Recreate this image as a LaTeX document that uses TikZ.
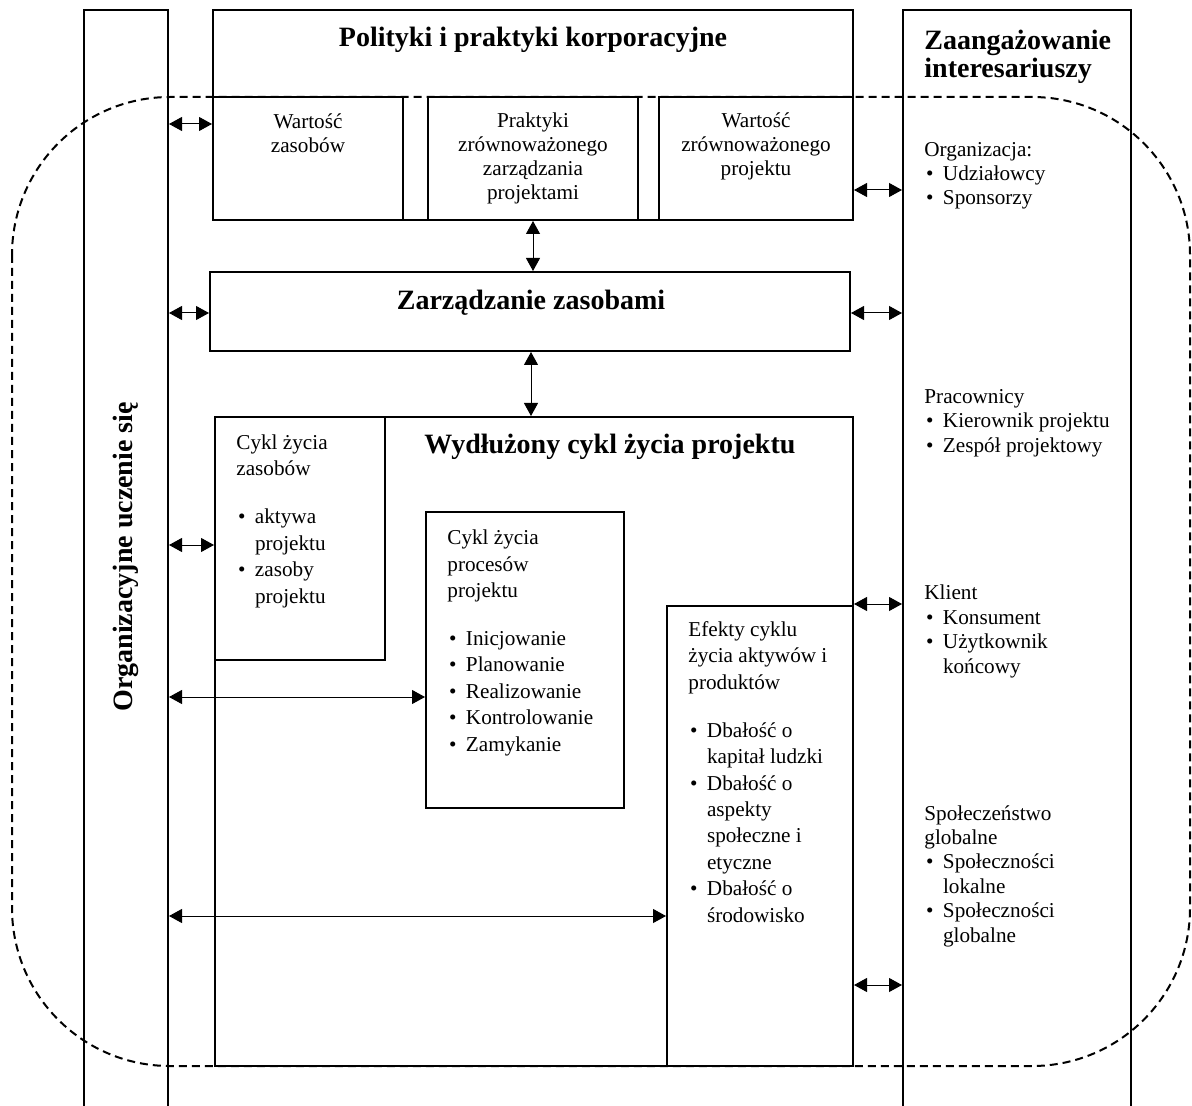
\documentclass[tikz,border=0pt]{standalone}
\usepackage{fontspec}
\setmainfont{Liberation Serif}
\usetikzlibrary{arrows.meta}
\newcommand{\mybul}{\makebox[9.3pt][l]{\hspace*{0.8pt}\textbullet}}
\newcommand{\myind}{\hspace*{9.3pt}}
\begin{document}
\begin{tikzpicture}[x=0.5pt,y=-0.5pt,
  box/.style={draw, line width=1pt, inner sep=0pt},
  arr/.style={{Triangle[length=6.5pt,width=7pt]}-{Triangle[length=6.5pt,width=7pt]}, line width=0.5pt},
  body/.style={font=\fontsize{10.6}{13.2}\selectfont, inner sep=0pt, align=left},
  bodytop/.style={font=\fontsize{10.6}{12}\selectfont, inner sep=0pt, align=center},
  side/.style={font=\fontsize{10.6}{12.2}\selectfont, inner sep=0pt, align=left},
  title/.style={font=\fontsize{14}{14}\selectfont\bfseries, inner sep=0pt},
  dashframe/.style={dash pattern=on 4pt off 2.5pt, line width=1pt},
]
\useasboundingbox (0,0) rectangle (1192,1106);
\clip (0,0) rectangle (1192,1106);

% dashed rounded frame
\draw[dashframe, rounded corners=79pt] (12,97) rectangle (1190,1066);

% columns (open at the bottom, clipped)
\node[box, minimum width=42pt, minimum height=560pt] (colL) at (126,570) {};
\node[box, minimum width=114pt, minimum height=560pt] (colR) at (1017,570) {};

% top block
\node[box, minimum width=320pt, minimum height=105pt] (pol) at (533,115) {};
\node[box, minimum width=95pt, minimum height=61.5pt] (wz) at (308,158.5) {};
\node[box, minimum width=105pt, minimum height=61.5pt] (pz) at (533,158.5) {};
\node[box, minimum width=97pt, minimum height=61.5pt] (wp) at (756,158.5) {};

% resource management
\node[box, minimum width=320pt, minimum height=39.5pt] (zz) at (530,311.5) {};

% extended life cycle
\node[box, minimum width=319pt, minimum height=324.5pt] (wcz) at (534,741.5) {};
\node[box, minimum width=85pt, minimum height=121.5pt] (cz) at (300,538.5) {};
\node[box, minimum width=99pt, minimum height=148pt] (cp) at (525,660) {};
\node[box, minimum width=93pt, minimum height=230pt] (ef) at (760,836) {};

% titles (anchor base = baseline of the last line)
\node[title, anchor=base] (tpol) at (533,47) {Polityki i praktyki korporacyjne};
\node[title, anchor=base] (tzz) at (531,310) {Zarządzanie zasobami};
\node[title, anchor=base west] (twcz) at (424,453) {Wydłużony cykl życia projektu};
\node[title, anchor=base west, align=left] (tza) at (924,78) {Zaangażowanie\\interesariuszy};
\node[title, rotate=90] (tou) at (126,557) {Organizacyjne uczenie się};

% top sub-box texts
\node[bodytop, anchor=base] (twz) at (308,153) {Wartość\\zasobów};
\node[bodytop, anchor=base] (tpz) at (533,200) {Praktyki\\zrównoważonego\\zarządzania\\projektami};
\node[bodytop, anchor=base] (twp) at (756,176) {Wartość\\zrównoważonego\\projektu};

% inner box texts
\node[body, anchor=base west] (tcz) at (236,603) {Cykl życia\\zasobów\\[10.8pt]\mybul aktywa\\\myind projektu\\\mybul zasoby\\\myind projektu};
\node[body, anchor=base west] (tcp) at (447,751) {Cykl życia\\procesów\\projektu\\[10.8pt]\mybul Inicjowanie\\\mybul Planowanie\\\mybul Realizowanie\\\mybul Kontrolowanie\\\mybul Zamykanie};
\node[body, anchor=base west] (tef) at (688,922) {Efekty cyklu\\życia aktywów i\\produktów\\[10.8pt]\mybul Dbałość o\\\myind kapitał ludzki\\\mybul Dbałość o\\\myind aspekty\\\myind społeczne i\\\myind etyczne\\\mybul Dbałość o\\\myind środowisko};

% stakeholder texts
\node[side, anchor=base west] (s1) at (924,205) {Organizacja:\\\mybul Udziałowcy\\\mybul Sponsorzy};
\node[side, anchor=base west] (s2) at (924,452) {Pracownicy\\\mybul Kierownik projektu\\\mybul Zespół projektowy};
\node[side, anchor=base west] (s3) at (924,673) {Klient\\\mybul Konsument\\\mybul Użytkownik\\\myind końcowy};
\node[side, anchor=base west] (s4) at (924,942) {Społeczeństwo\\globalne\\\mybul Społeczności\\\myind lokalne\\\mybul Społeczności\\\myind globalne};

% arrow heights
\coordinate (y1) at (0,124);
\coordinate (y2) at (0,190);
\coordinate (y3) at (0,313);
\coordinate (y4) at (0,545);
\coordinate (y5) at (0,604);
\coordinate (y6) at (0,697);
\coordinate (y7) at (0,916);
\coordinate (y8) at (0,985);
\coordinate (x1) at (533,0);
\coordinate (x2) at (531,0);

% connectors
\draw[arr] (colL.east |- y1) -- (wz.west |- y1);
\draw[arr] (wp.east |- y2) -- (colR.west |- y2);
\draw[arr] (pol.south -| x1) -- (zz.north -| x1);
\draw[arr] (colL.east |- y3) -- (zz.west |- y3);
\draw[arr] (zz.east |- y3) -- (colR.west |- y3);
\draw[arr] (zz.south -| x2) -- (wcz.north -| x2);
\draw[arr] (colL.east |- y4) -- (cz.west |- y4);
\draw[arr] (wcz.east |- y5) -- (colR.west |- y5);
\draw[arr] (colL.east |- y6) -- (cp.west |- y6);
\draw[arr] (colL.east |- y7) -- (ef.west |- y7);
\draw[arr] (wcz.east |- y8) -- (colR.west |- y8);
\end{tikzpicture}
\end{document}
